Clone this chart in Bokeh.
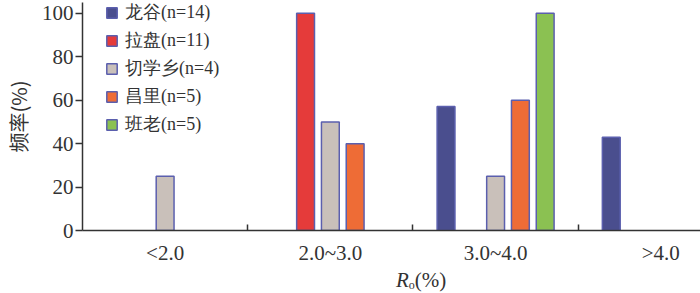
from bokeh.plotting import figure
from bokeh.models import ColumnDataSource, Range1d, FixedTicker, Legend, LegendItem, Div
from bokeh.layouts import column
from bokeh.embed import file_html
from bokeh.resources import INLINE

categories = ["<2.0", "2.0~3.0", "3.0~4.0", ">4.0"]
series_names = ["龙谷(n=14)", "拉盘(n=11)", "切学乡(n=4)", "昌里(n=5)", "班老(n=5)"]
longgu = [0, 0, 57.1, 42.9]
lapan = [0, 100, 0, 0]
qiexuexiang = [25, 50, 25, 0]
changli = [0, 40, 60, 0]
banlao = [0, 0, 100, 0]
y_ticks = [0, 20, 40, 60, 80, 100]

series_values = [longgu, lapan, qiexuexiang, changli, banlao]
colors = ["#4a4e8e", "#e53b3a", "#c9c0ba", "#ee6c36", "#8bc152"]
outline = "#5b5fae"

SERIF = "Liberation Serif"

p = figure(width=700, height=270, output_backend="svg", toolbar_location=None,
           x_range=Range1d(-0.5, 3.24), y_range=Range1d(0, 105),
           min_border_left=75, min_border_right=0, min_border_top=2, min_border_bottom=40,
           margin=0)
p.grid.visible = False
p.outline_line_color = None
p.background_fill_color = "white"

step = 0.15
width = 0.108
items = []
for k, (name, vals, col) in enumerate(zip(series_names, series_values, colors)):
    xs = [i + (k - 2) * step for i, v in enumerate(vals) if v > 0]
    ys = [v for v in vals if v > 0]
    src = ColumnDataSource(dict(x=xs, top=ys))
    r = p.vbar(x="x", top="top", width=width, bottom=0, source=src,
               fill_color=col, line_color=outline, line_width=1.5)
    items.append(LegendItem(label=name, renderers=[r]))

legend = Legend(items=items, location=(23, 94), padding=0, margin=0,
                spacing=4, label_height=20, glyph_height=13, glyph_width=13,
                label_standoff=7, border_line_color=None, background_fill_alpha=0,
                label_text_font=SERIF, label_text_font_size="18px",
                label_text_color="#333333")
p.add_layout(legend, "center")

# x axis
p.xaxis.ticker = FixedTicker(ticks=[0, 1, 2, 3], minor_ticks=[0.5, 1.5, 2.5])
p.xaxis.major_label_overrides = {i: c for i, c in enumerate(categories)}
p.xaxis.major_tick_line_color = None
p.xaxis.minor_tick_in = 6
p.xaxis.minor_tick_out = 0
p.xaxis.minor_tick_line_width = 1.5
p.xaxis.minor_tick_line_color = "#333333"
p.xaxis.axis_line_width = 1.5
p.xaxis.axis_line_color = "#333333"
p.xaxis.major_label_text_font = SERIF
p.xaxis.major_label_text_font_size = "21px"
p.xaxis.major_label_text_color = "#333333"
p.xaxis.major_label_standoff = 4

# y axis
p.yaxis.ticker = FixedTicker(ticks=y_ticks)
p.yaxis.minor_tick_line_color = None
p.yaxis.major_tick_in = 0
p.yaxis.major_tick_out = 7
p.yaxis.major_tick_line_width = 1.5
p.yaxis.major_tick_line_color = "#333333"
p.yaxis.axis_line_width = 1.5
p.yaxis.axis_line_color = "#333333"
p.yaxis.major_label_text_font = SERIF
p.yaxis.major_label_text_font_size = "21px"
p.yaxis.major_label_text_color = "#333333"
p.yaxis.major_label_standoff = 2
p.yaxis.axis_label = "频率(%)"
p.yaxis.axis_label_text_font = "Noto Sans CJK SC"
p.yaxis.axis_label_text_font_style = "normal"
p.yaxis.axis_label_text_font_size = "20px"
p.yaxis.axis_label_text_color = "#333333"
p.yaxis.axis_label_standoff = 6

# x axis title: italic R, subscript o, (%)
xtitle = Div(text="<i>R</i><span style='font-size:12px;vertical-align:-2px'>o</span>(%)",
             width=700, height=23, margin=0,
             styles={"font-family": SERIF, "font-size": "21px", "color": "#333333",
                     "padding-left": "396px", "line-height": "20px"})

layout = column(p, xtitle, spacing=0, margin=0)
open("out.html", "w").write(file_html(layout, INLINE))
